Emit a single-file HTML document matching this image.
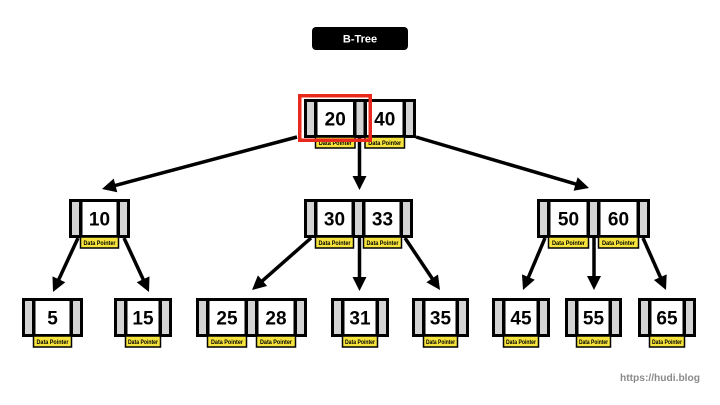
<!DOCTYPE html>
<html>
<head>
<meta charset="utf-8">
<style>
html,body{margin:0;padding:0;background:#fff;}
svg{display:block;}
.num{font-family:"Liberation Sans",sans-serif;font-weight:bold;font-size:19px;fill:#000;text-anchor:middle;}
.dp{font-family:"Liberation Sans",sans-serif;font-weight:bold;font-size:6.5px;fill:#000;text-anchor:middle;}
.lab{fill:#f6e43c;stroke:#000;stroke-width:1.5;}
.g{fill:#d4d4d4;}
.w{fill:#fff;}
.ln{stroke:#000;stroke-width:3.5;fill:none;}
</style>
</head>
<body>
<svg width="720" height="405" viewBox="0 0 720 405" xmlns="http://www.w3.org/2000/svg">
<rect x="0" y="0" width="720" height="405" fill="#fff"/>

<!-- title -->
<rect x="312" y="27" width="96" height="23" rx="4" fill="#000"/>
<text x="360" y="42.5" font-family="Liberation Sans, sans-serif" font-weight="bold" font-size="11" fill="#fff" text-anchor="middle">B-Tree</text>

<!-- arrows -->
<g>
<line class="ln" x1="297" y1="137" x2="113.6" y2="185.9"/>
<polygon points="102,189 113.7,178.6 117.3,192.2" fill="#000"/>
<line class="ln" x1="359.5" y1="138" x2="359.5" y2="178"/>
<polygon points="359.5,190 352.5,176 366.5,176" fill="#000"/>
<line class="ln" x1="416" y1="137" x2="577.5" y2="184.6"/>
<polygon points="589,188 573.6,190.7 577.6,177.3" fill="#000"/>

<line class="ln" x1="78" y1="238" x2="58" y2="281.1"/>
<polygon points="53,292 52.5,276.4 65.3,282.2" fill="#000"/>
<line class="ln" x1="124" y1="238" x2="144" y2="281.1"/>
<polygon points="149,292 136.7,282.2 149.5,276.4" fill="#000"/>

<line class="ln" x1="311" y1="238" x2="261" y2="282.1"/>
<polygon points="252,290 257.9,275.4 267.1,286" fill="#000"/>
<line class="ln" x1="359.5" y1="238" x2="359.5" y2="279"/>
<polygon points="359.5,291 352.5,277 366.5,277" fill="#000"/>
<line class="ln" x1="405" y1="238" x2="433.3" y2="280.1"/>
<polygon points="440,290 426.4,282.3 438,274.5" fill="#000"/>

<line class="ln" x1="545" y1="238" x2="527.7" y2="279"/>
<polygon points="523,290 522,274.4 534.8,279.8" fill="#000"/>
<line class="ln" x1="594" y1="238" x2="594" y2="278"/>
<polygon points="594,290 587,276 601,276" fill="#000"/>
<line class="ln" x1="643" y1="238" x2="661.2" y2="279"/>
<polygon points="666,290 653.9,280 666.7,274.4" fill="#000"/>
</g>

<!-- ROOT 20|40 w=35.5 -->
<g transform="translate(304,99)">
<rect x="0" y="0" width="112" height="39" fill="#000"/>
<rect class="g" x="3" y="3" width="7" height="33"/>
<rect class="w" x="13.5" y="3" width="35.5" height="33"/>
<rect class="g" x="52.5" y="3" width="7" height="33"/>
<rect class="w" x="63" y="3" width="35.5" height="33"/>
<rect class="g" x="102" y="3" width="7" height="33"/>
<text class="num" x="31.25" y="26.5">20</text>
<text class="num" x="80.75" y="26.5">40</text>
<rect class="lab" x="11.5" y="38" width="39.5" height="11"/>
<text class="dp" x="31.25" y="46" textLength="33" lengthAdjust="spacingAndGlyphs">Data Pointer</text>
<rect class="lab" x="61" y="38" width="39.5" height="11"/>
<text class="dp" x="80.75" y="46" textLength="33" lengthAdjust="spacingAndGlyphs">Data Pointer</text>
</g>

<!-- L2: 10 w=34 -->
<g transform="translate(69,199)">
<rect x="0" y="0" width="61" height="39" fill="#000"/>
<rect class="g" x="3" y="3" width="7" height="33"/>
<rect class="w" x="13.5" y="3" width="34" height="33"/>
<rect class="g" x="51" y="3" width="7" height="33"/>
<text class="num" x="30.5" y="26.5">10</text>
<rect class="lab" x="11.5" y="38" width="38" height="11"/>
<text class="dp" x="30.5" y="46" textLength="32" lengthAdjust="spacingAndGlyphs">Data Pointer</text>
</g>

<!-- L2: 30|33 w=34 -->
<g transform="translate(304,199)">
<rect x="0" y="0" width="109" height="39" fill="#000"/>
<rect class="g" x="3" y="3" width="7" height="33"/>
<rect class="w" x="13.5" y="3" width="34" height="33"/>
<rect class="g" x="51" y="3" width="7" height="33"/>
<rect class="w" x="61.5" y="3" width="34" height="33"/>
<rect class="g" x="99" y="3" width="7" height="33"/>
<text class="num" x="30.5" y="26.5">30</text>
<text class="num" x="78.5" y="26.5">33</text>
<rect class="lab" x="11.5" y="38" width="38" height="11"/>
<text class="dp" x="30.5" y="46" textLength="32" lengthAdjust="spacingAndGlyphs">Data Pointer</text>
<rect class="lab" x="59.5" y="38" width="38" height="11"/>
<text class="dp" x="78.5" y="46" textLength="32" lengthAdjust="spacingAndGlyphs">Data Pointer</text>
</g>

<!-- L2: 50|60 w=36 -->
<g transform="translate(537,199)">
<rect x="0" y="0" width="113" height="39" fill="#000"/>
<rect class="g" x="3" y="3" width="7" height="33"/>
<rect class="w" x="13.5" y="3" width="36" height="33"/>
<rect class="g" x="53" y="3" width="7" height="33"/>
<rect class="w" x="63.5" y="3" width="36" height="33"/>
<rect class="g" x="103" y="3" width="7" height="33"/>
<text class="num" x="31.5" y="26.5">50</text>
<text class="num" x="81.5" y="26.5">60</text>
<rect class="lab" x="11.5" y="38" width="40" height="11"/>
<text class="dp" x="31.5" y="46" textLength="33" lengthAdjust="spacingAndGlyphs">Data Pointer</text>
<rect class="lab" x="61.5" y="38" width="40" height="11"/>
<text class="dp" x="81.5" y="46" textLength="33" lengthAdjust="spacingAndGlyphs">Data Pointer</text>
</g>

<!-- L3: 5 w=34 -->
<g transform="translate(22,298)">
<rect x="0" y="0" width="61" height="39" fill="#000"/>
<rect class="g" x="3" y="3" width="7" height="33"/>
<rect class="w" x="13.5" y="3" width="34" height="33"/>
<rect class="g" x="51" y="3" width="7" height="33"/>
<text class="num" x="30.5" y="26.5">5</text>
<rect class="lab" x="11.5" y="38" width="38" height="11"/>
<text class="dp" x="30.5" y="46" textLength="32" lengthAdjust="spacingAndGlyphs">Data Pointer</text>
</g>

<!-- L3: 15 w=31 -->
<g transform="translate(114,298)">
<rect x="0" y="0" width="58" height="39" fill="#000"/>
<rect class="g" x="3" y="3" width="7" height="33"/>
<rect class="w" x="13.5" y="3" width="31" height="33"/>
<rect class="g" x="48" y="3" width="7" height="33"/>
<text class="num" x="29" y="26.5">15</text>
<rect class="lab" x="11.5" y="38" width="35" height="11"/>
<text class="dp" x="29" y="46" textLength="30" lengthAdjust="spacingAndGlyphs">Data Pointer</text>
</g>

<!-- L3: 25|28 w=35 -->
<g transform="translate(196,298)">
<rect x="0" y="0" width="111" height="39" fill="#000"/>
<rect class="g" x="3" y="3" width="7" height="33"/>
<rect class="w" x="13.5" y="3" width="35" height="33"/>
<rect class="g" x="52" y="3" width="7" height="33"/>
<rect class="w" x="62.5" y="3" width="35" height="33"/>
<rect class="g" x="101" y="3" width="7" height="33"/>
<text class="num" x="31" y="26.5">25</text>
<text class="num" x="80" y="26.5">28</text>
<rect class="lab" x="11.5" y="38" width="39" height="11"/>
<text class="dp" x="31" y="46" textLength="32" lengthAdjust="spacingAndGlyphs">Data Pointer</text>
<rect class="lab" x="60.5" y="38" width="39" height="11"/>
<text class="dp" x="80" y="46" textLength="32" lengthAdjust="spacingAndGlyphs">Data Pointer</text>
</g>

<!-- L3: 31 w=31 -->
<g transform="translate(331,298)">
<rect x="0" y="0" width="58" height="39" fill="#000"/>
<rect class="g" x="3" y="3" width="7" height="33"/>
<rect class="w" x="13.5" y="3" width="31" height="33"/>
<rect class="g" x="48" y="3" width="7" height="33"/>
<text class="num" x="29" y="26.5">31</text>
<rect class="lab" x="11.5" y="38" width="35" height="11"/>
<text class="dp" x="29" y="46" textLength="30" lengthAdjust="spacingAndGlyphs">Data Pointer</text>
</g>

<!-- L3: 35 w=30 -->
<g transform="translate(412,298)">
<rect x="0" y="0" width="57" height="39" fill="#000"/>
<rect class="g" x="3" y="3" width="7" height="33"/>
<rect class="w" x="13.5" y="3" width="30" height="33"/>
<rect class="g" x="47" y="3" width="7" height="33"/>
<text class="num" x="28.5" y="26.5">35</text>
<rect class="lab" x="11.5" y="38" width="34" height="11"/>
<text class="dp" x="28.5" y="46" textLength="29" lengthAdjust="spacingAndGlyphs">Data Pointer</text>
</g>

<!-- L3: 45 w=31 -->
<g transform="translate(492,298)">
<rect x="0" y="0" width="58" height="39" fill="#000"/>
<rect class="g" x="3" y="3" width="7" height="33"/>
<rect class="w" x="13.5" y="3" width="31" height="33"/>
<rect class="g" x="48" y="3" width="7" height="33"/>
<text class="num" x="29" y="26.5">45</text>
<rect class="lab" x="11.5" y="38" width="35" height="11"/>
<text class="dp" x="29" y="46" textLength="30" lengthAdjust="spacingAndGlyphs">Data Pointer</text>
</g>

<!-- L3: 55 w=30 -->
<g transform="translate(565,298)">
<rect x="0" y="0" width="57" height="39" fill="#000"/>
<rect class="g" x="3" y="3" width="7" height="33"/>
<rect class="w" x="13.5" y="3" width="30" height="33"/>
<rect class="g" x="47" y="3" width="7" height="33"/>
<text class="num" x="28.5" y="26.5">55</text>
<rect class="lab" x="11.5" y="38" width="34" height="11"/>
<text class="dp" x="28.5" y="46" textLength="29" lengthAdjust="spacingAndGlyphs">Data Pointer</text>
</g>

<!-- L3: 65 w=31 -->
<g transform="translate(638,298)">
<rect x="0" y="0" width="58" height="39" fill="#000"/>
<rect class="g" x="3" y="3" width="7" height="33"/>
<rect class="w" x="13.5" y="3" width="31" height="33"/>
<rect class="g" x="48" y="3" width="7" height="33"/>
<text class="num" x="29" y="26.5">65</text>
<rect class="lab" x="11.5" y="38" width="35" height="11"/>
<text class="dp" x="29" y="46" textLength="30" lengthAdjust="spacingAndGlyphs">Data Pointer</text>
</g>

<!-- red highlight -->
<rect x="299.75" y="95.75" width="70.5" height="44.5" fill="none" stroke="#e8291c" stroke-width="3.5"/>

<!-- watermark -->
<text x="620" y="381" font-family="Liberation Sans, sans-serif" font-weight="bold" font-size="10" fill="#8a8a8a" textLength="80" lengthAdjust="spacingAndGlyphs">https://hudi.blog</text>
</svg>
</body>
</html>
